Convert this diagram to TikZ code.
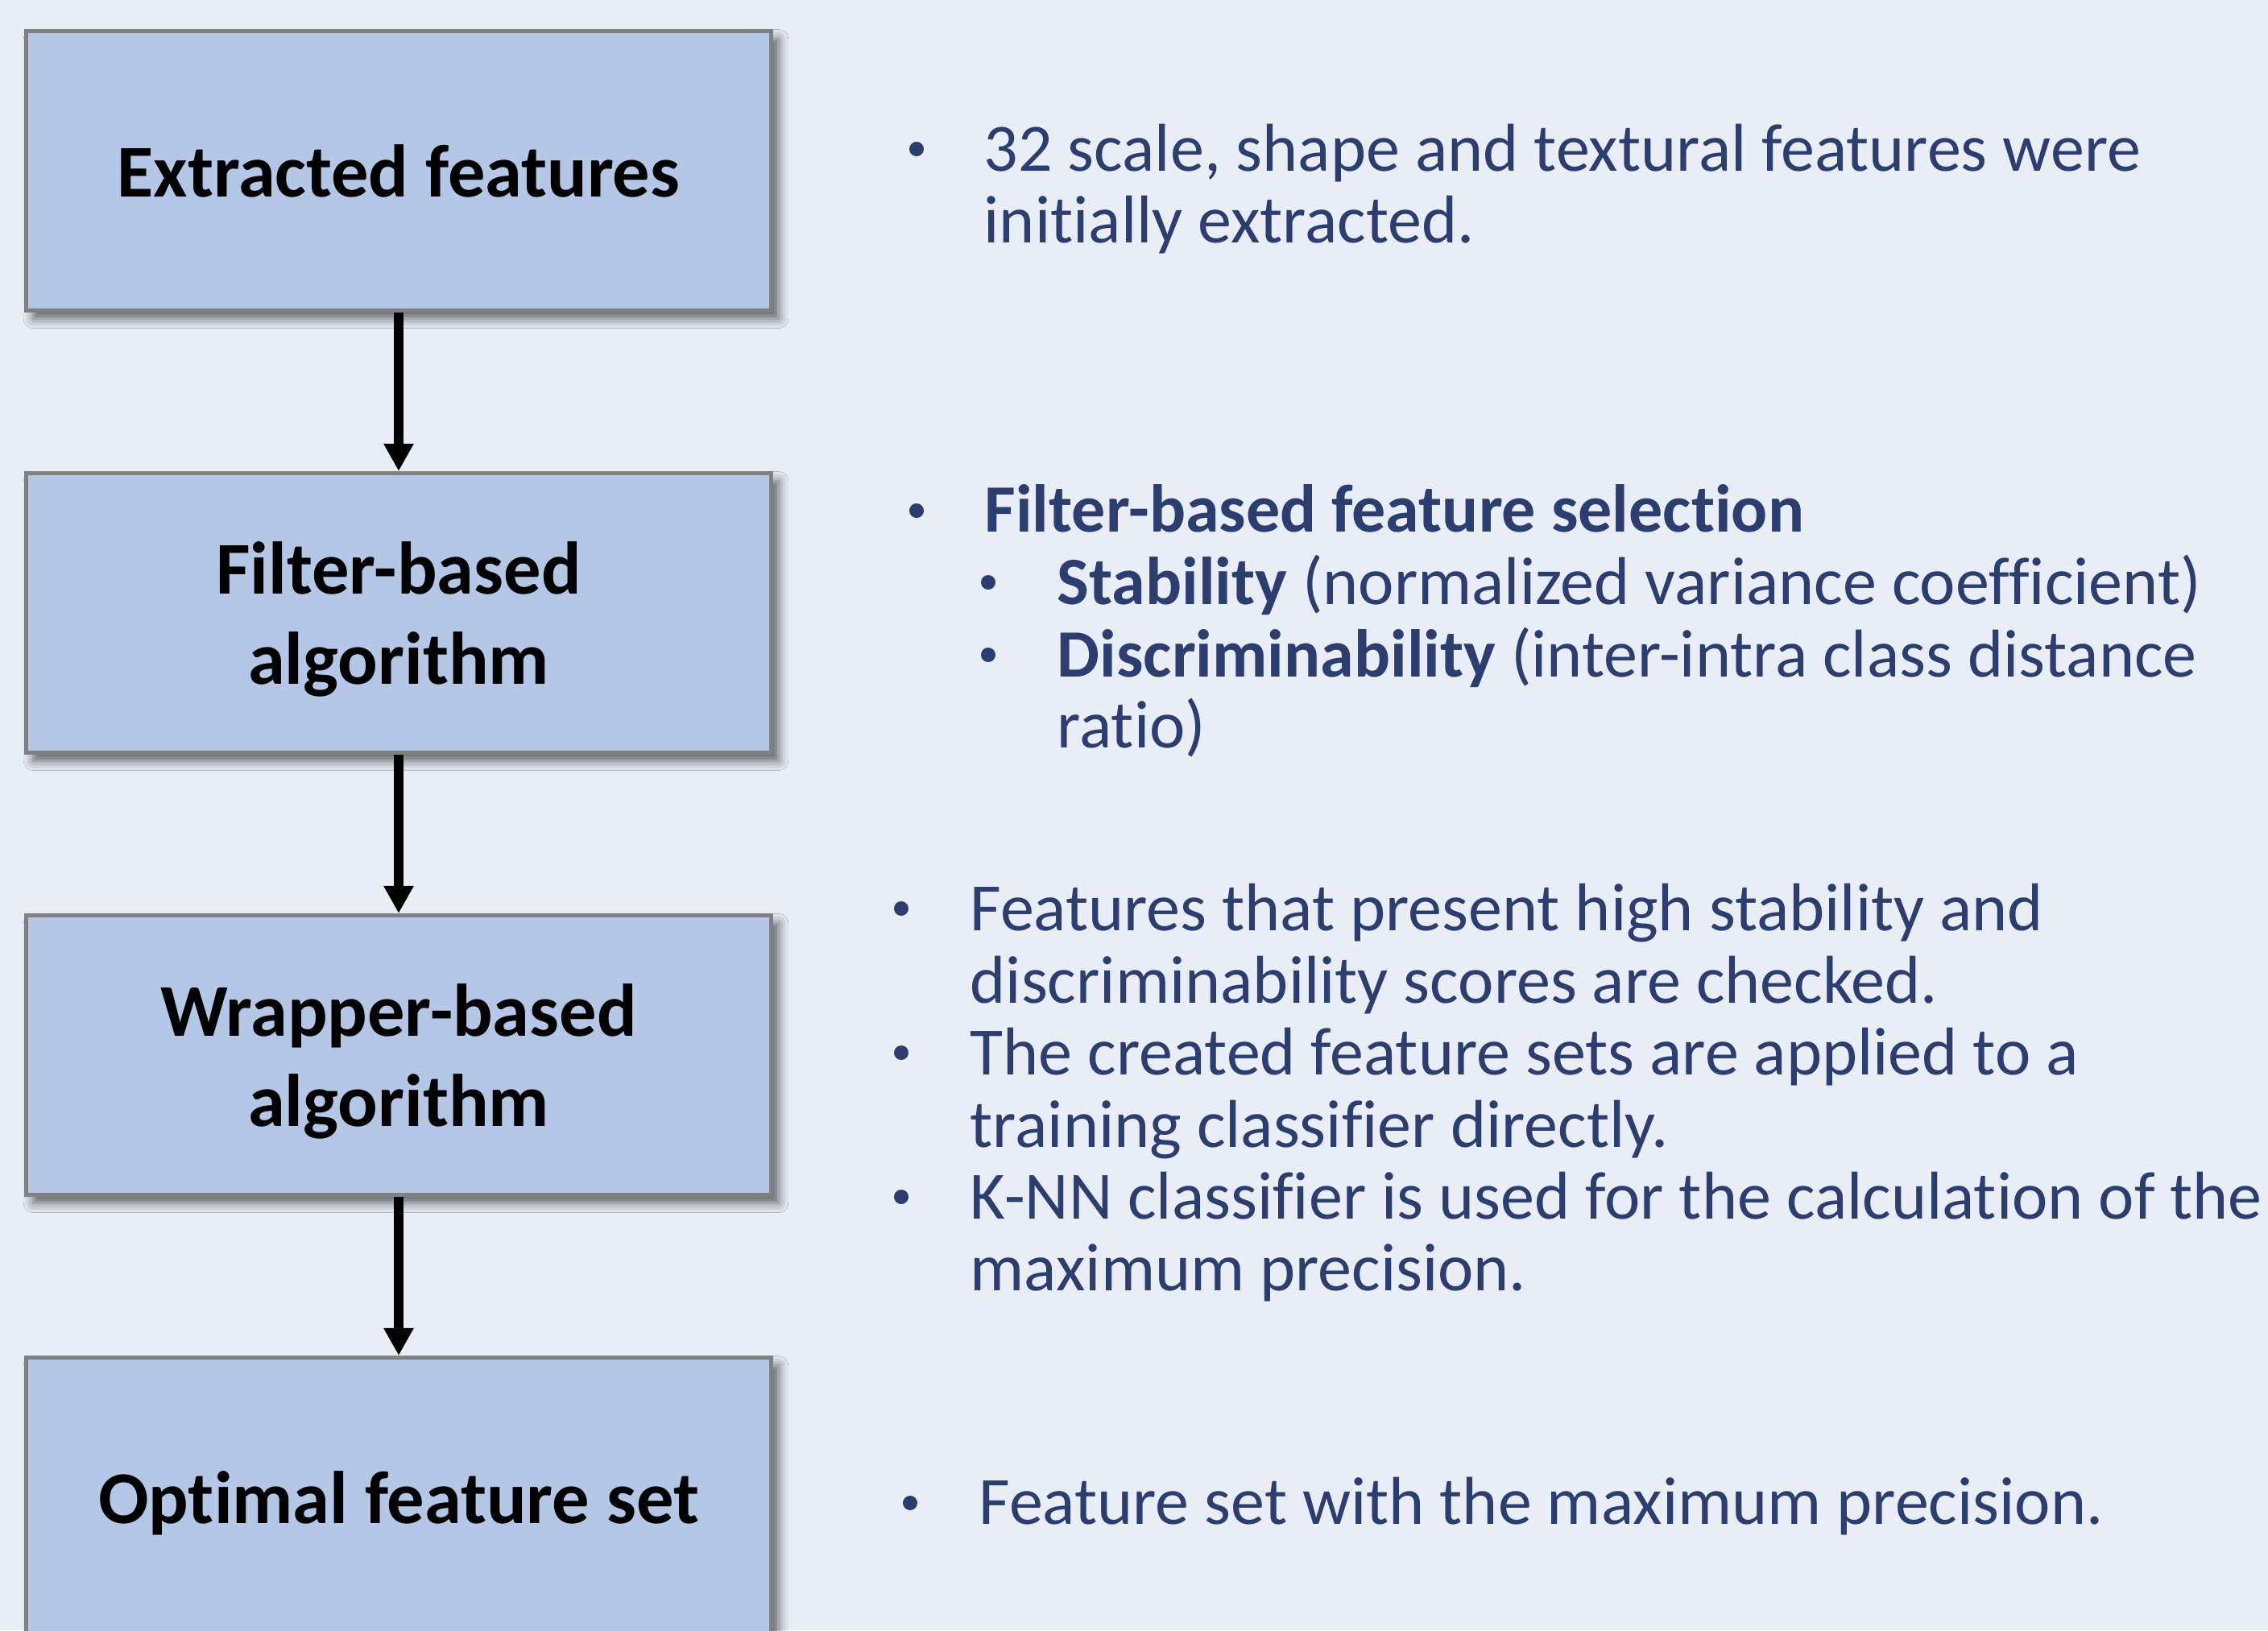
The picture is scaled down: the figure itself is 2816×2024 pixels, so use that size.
\documentclass[tikz,border=0pt]{standalone}
\usepackage{fontspec}
\setmainfont[Ligatures=NoCommon]{Carlito}
\usetikzlibrary{arrows.meta,shadows.blur}
\definecolor{bgcol}{HTML}{E9EEF6}
\definecolor{boxfill}{HTML}{B4C7E7}
\definecolor{boxborder}{HTML}{808080}
\definecolor{txtblue}{HTML}{2C3E70}
\newcommand{\boxfnt}{\fontsize{26.3pt}{31.8pt}\selectfont\bfseries}
\newcommand{\txtfnt}{\fontsize{23.9pt}{25.4pt}\selectfont}
\tikzset{
  flowbox/.style={draw=boxborder, line width=1.4pt, fill=boxfill,
    minimum width=9.25cm, minimum height=3.47cm, inner sep=0pt,
    blur shadow={shadow xshift=0.09cm, shadow yshift=-0.1cm,
      shadow blur radius=0.12cm, shadow opacity=60}},
  boxlabel/.style={inner sep=0pt, align=center, font=\boxfnt, text=black},
  flowarrow/.style={line width=3.27pt, draw=black,
    -{Triangle[width=10pt,length=9.7pt]}},
  line/.style={anchor=base west, inner sep=0pt, text=txtblue, font=\txtfnt},
  bul/.style={circle, fill=txtblue, draw=none, inner sep=0pt, minimum size=0.18cm}
}
\begin{document}
\begin{tikzpicture}[x=0.01cm,y=-0.01cm]
\fill[bgcol] (0,0) rectangle (2816,2024);
\useasboundingbox (0,0) rectangle (2816,2024);
\clip (0,0) rectangle (2816,2024);

% flow boxes
\node[flowbox] (b1) at (495,212) {};
\node[flowbox] (b2) at (495,761) {};
\node[flowbox] (b3) at (495,1310) {};
\node[flowbox] (b4) at (495,1859) {};
\node[boxlabel] (l1) at (b1.center) {Extracted features};
\node[boxlabel, yshift=-0.08cm] (l2) at (b2.center) {Filter-based\\algorithm};
\node[boxlabel, yshift=-0.08cm] (l3) at (b3.center) {Wrapper-based\\algorithm};
\node[boxlabel, yshift=-0.07cm] (l4) at (b4.center) {Optimal feature set};

\draw[flowarrow] (b1.south) -- (b2.north);
\draw[flowarrow] (b2.south) -- (b3.north);
\draw[flowarrow] (b3.south) -- (b4.north);

% block 1
\node[bul] (p1) at (1138,185) {};
\node[line] (t1a) at (1221,212) {32 scale, shape and textural features were};
\node[line] (t1b) at (1221,301) {initially extracted.};

% block 2
\node[bul] (p2) at (1138,634) {};
\node[line] (t2a) at (1222,660) {\textbf{Filter-based feature selection}};
\node[bul] (p2b) at (1227,723) {};
\node[line] (t2b) at (1312,750) {\textbf{Stability} (normalized variance coefficient)};
\node[bul] (p2c) at (1227,813) {};
\node[line] (t2c) at (1312,840) {\textbf{Discriminability} (inter-intra class distance};
\node[line] (t2d) at (1312,928) {ratio)};

% block 3
\node[bul] (p3a) at (1119,1128) {};
\node[line] (t3a) at (1204,1155) {Features that present high stability and};
\node[line] (t3b) at (1204,1245) {discriminability scores are checked.};
\node[bul] (p3b) at (1119,1307) {};
\node[line] (t3c) at (1204,1334) {The created feature sets are applied to a};
\node[line] (t3d) at (1204,1424) {training classifier directly.};
\node[bul] (p3c) at (1119,1486) {};
\node[line] (t3e) at (1204,1513) {K-NN classifier is used for the calculation of the};
\node[line] (t3f) at (1204,1602) {maximum precision.};

% block 4
\node[bul] (p4) at (1130,1866) {};
\node[line] (t4) at (1215,1892) {Feature set with the maximum precision.};
\end{tikzpicture}
\end{document}
